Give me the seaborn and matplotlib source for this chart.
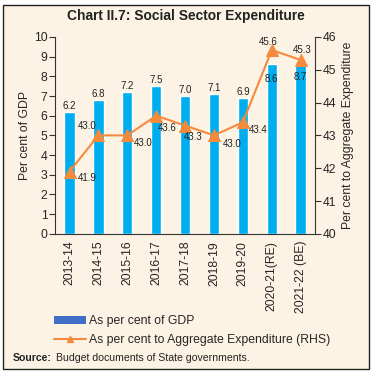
import matplotlib as mpl
mpl.use('Agg')
import matplotlib.pyplot as plt
import numpy as np
import pandas as pd
import seaborn as sns
from matplotlib.patches import Patch, Rectangle
from matplotlib.lines import Line2D

years = ['2013-14', '2014-15', '2015-16', '2016-17', '2017-18',
         '2018-19', '2019-20', '2020-21(RE)', '2021-22 (BE)']
pct_gdp = [6.2, 6.8, 7.2, 7.5, 7.0, 7.1, 6.9, 8.6, 8.7]
pct_agg = [41.9, 43.0, 43.0, 43.6, 43.3, 43.0, 43.4, 45.6, 45.3]

# label offsets in pixels (dx, dy)
bar_lab_off = [(0, 6)] * 7 + [(0, -15), (0, -14)]
line_lab_off = [(18, -6), (-11, 9), (16, -8), (11, -12), (8, -11),
                (18, -9), (15, -8), (-3, 8), (2, 10)]

bar_col = '#00aeef'
line_col = '#f58a3c'
bg = '#fcf3e4'

sns.set_style('white')
plt.rcParams['font.family'] = ['Liberation Sans', 'DejaVu Sans']

df = pd.DataFrame({'year': years, 'gdp': pct_gdp, 'agg': pct_agg})

fig = plt.figure(figsize=(3.72, 3.73), dpi=100)
fig.patch.set_facecolor('white')
fig.patches.append(Rectangle((2.5 / 372, 1 - 369 / 373), 366.5 / 372, 364 / 373,
                             transform=fig.transFigure, facecolor=bg,
                             edgecolor='#222222', linewidth=1.0, zorder=-5))

ax = fig.add_axes([0.148, 0.373, 0.699, 0.528])
ax.set_facecolor('none')
sns.barplot(data=df, x='year', y='gdp', ax=ax, color=bar_col, width=0.36,
            saturation=1)
ax.set_ylim(0, 10)
ax.set_xlim(-0.5, len(years) - 0.5)
ax.set_yticks(range(0, 11))
ax.set_xlabel('')
ax.set_ylabel('Per cent of GDP', fontsize=8.8, labelpad=2)
ax.set_xticks(np.arange(len(years)))
ax.set_xticklabels(years, rotation=90, fontsize=8.8)
ax.set_xticks(np.arange(-0.5, len(years), 1), minor=True)
ax.tick_params(axis='x', which='major', length=0, pad=5)
ax.tick_params(axis='x', which='minor', length=4, width=0.8, color='#333333', direction='out')
ax.tick_params(axis='y', length=4, width=0.8, color='#333333', direction='out', labelsize=8.8, pad=1.5)
for s in ['top', 'right']:
    ax.spines[s].set_visible(False)
for s in ['left', 'bottom']:
    ax.spines[s].set_color('#333333')
    ax.spines[s].set_linewidth(0.8)

for i, v in enumerate(pct_gdp):
    ax.annotate(f'{v:.1f}', (i, v), xytext=bar_lab_off[i], textcoords='offset pixels',
                ha='center', va='center', fontsize=7, color='#222222')

ax2 = ax.twinx()
sns.lineplot(x=np.arange(len(years)), y=pct_agg, ax=ax2, color=line_col, linewidth=1.5,
             marker='^', markersize=8, markeredgecolor=line_col)
ax2.set_ylim(40, 46)
ax2.set_ylabel('Per cent to Aggregate Expenditure', fontsize=8.8, labelpad=4)
ax2.tick_params(axis='y', length=4, width=0.8, color='#333333', direction='out', labelsize=8.8, pad=1.5)
for s in ['top', 'left', 'bottom']:
    ax2.spines[s].set_visible(False)
ax2.spines['right'].set_color('#333333')
ax2.spines['right'].set_linewidth(0.8)

for i, v in enumerate(pct_agg):
    ax2.annotate(f'{v:.1f}', (i, v), xytext=line_lab_off[i], textcoords='offset pixels',
                 ha='center', va='center', fontsize=7, color='#222222')

fig.text(0.5, 1 - 16 / 373, 'Chart II.7: Social Sector Expenditure', ha='center', va='center',
         fontsize=9.9, fontweight='bold', color='#222222')

handles = [Patch(facecolor='#3f6fc6', edgecolor='none'),
           Line2D([], [], color=line_col, linewidth=1.5, marker='^', markersize=4)]
labels = ['As per cent of GDP', 'As per cent to Aggregate Expenditure (RHS)']
fig.legend(handles, labels, loc='upper left', bbox_to_anchor=(48 / 372, 1 - 309 / 373),
           frameon=False, fontsize=8.8, handlelength=2.6, handleheight=0.7,
           handletextpad=0.25, labelspacing=0.55, borderpad=0)

fig.text(13 / 372, 1 - 358 / 373, 'Source:', ha='left', va='center', fontsize=7.6,
         fontweight='bold', color='#222222')
fig.text(56 / 372, 1 - 358 / 373, 'Budget documents of State governments.', ha='left',
         va='center', fontsize=7.6, color='#222222')

plt.savefig('out.png', dpi=100)
